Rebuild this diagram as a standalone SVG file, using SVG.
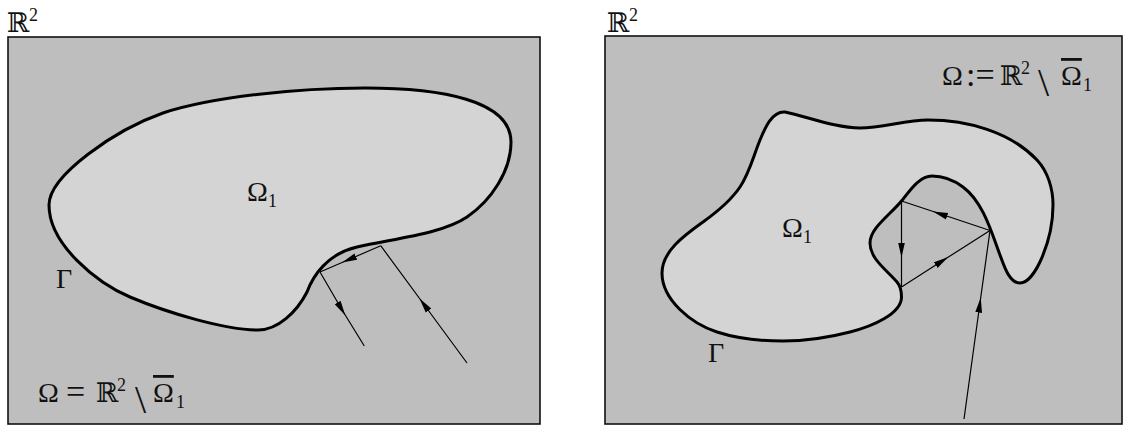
<svg xmlns="http://www.w3.org/2000/svg" width="1128" height="425" viewBox="0 0 1128 425">
<style>
.box{fill:#bebebe;stroke:#111;stroke-width:1.6}
.blob{fill:#d4d4d4;stroke:#000;stroke-width:3;stroke-linejoin:round}
.ray{fill:none;stroke:#000;stroke-width:1.2;marker-mid:url(#ah)}
.t{font-family:"Liberation Serif","DejaVu Serif",serif;font-size:28px;fill:#111}
.s{font-family:"Liberation Serif","DejaVu Serif",serif;font-size:18px;fill:#111}
.bb{font-family:"DejaVu Serif",serif;font-size:27px;fill:#111}
.eq{font-family:"Liberation Serif","DejaVu Serif",serif;font-size:34px;fill:#111}
.bs{font-family:"Liberation Serif","DejaVu Serif",serif;font-size:40px;fill:#111}
.ov{text-decoration:overline}
</style>
<defs>
<marker id="ah" markerUnits="userSpaceOnUse" markerWidth="15" markerHeight="8" viewBox="0 0 15 8" refX="7.5" refY="4" orient="auto">
<path d="M0,0.6 L15,4 L0,7.4 Z" fill="#000"/>
</marker>
</defs>

<g id="left-panel">
<rect class="box" x="8" y="37" width="532" height="387"/>
<text class="bb" x="7" y="32">ℝ</text><text class="s" x="29" y="21">2</text>
</g>

<g id="left-omega1">
<path class="blob" d="M49,205 C49,175 116,129.5 163,113 C212,97 297,88 365,88 C440,88 511,100 511,142 C511,171 491,200.7 467,217 C442,234 393,238.6 357,247 C327,254 313,276 307,292 C297,311.6 278,330 258,330 C225,330 166.8,312.6 130,297 C97.8,283.4 49,245 49,205 Z"/>
<text class="t" x="247" y="201">Ω</text><text class="s" x="268" y="207">1</text>
<text class="t" x="56" y="288">Γ</text>
</g>

<g id="left-formula">
<text class="t" x="38" y="402">Ω</text>
<text class="eq" x="66" y="403">=</text>
<text class="bb" x="96" y="402">ℝ</text><text class="s" x="117" y="391">2</text>
<text class="bs" x="135" y="413">\</text>
<text class="t ov" x="153" y="402">Ω</text><text class="s" x="176" y="408">1</text>
</g>

<g id="right-panel">
<rect class="box" x="605" y="36" width="517" height="388"/>
<text class="bb" x="607" y="32">ℝ</text><text class="s" x="629" y="21">2</text>
</g>

<g id="right-omega1">
<path class="blob" d="M785,112 C808,117 836,128 860,128 C883,128 905,120 928,120 C967,120 1010,131.5 1037,160 C1048,171.7 1053,189 1053,205 C1053,240 1035,283 1020,283 C1009,283 1003.9,265.3 1000,255 C991.25,231.5 983,202 963,187 C954.2,180.4 943,176 932,176 C919,176 909.7,191 901.5,201 C890,215 870,228 870,243 C870,259 886.6,269.8 897,282 C900.9,286.6 901.5,291 901.5,297 C901.5,314 872,326.5 850,332 C829,337.5 805,341 783,341 C761,341 738,338.8 717,332 C691.4,323.6 662,300 662,273 C662,251 685.2,234.8 703,222 C716.8,212.1 730.5,201.1 740,187 C749.5,172.9 753.5,155.8 760,140 C765,127.9 772,111 785,112 Z"/>
<text class="t" x="782" y="237">Ω</text><text class="s" x="803" y="243">1</text>
<text class="t" x="708" y="362">Γ</text>
</g>

<g id="right-formula">
<text class="t" x="942" y="85">Ω</text>
<text class="eq" x="966" y="86">:=</text>
<text class="bb" x="1000" y="85">ℝ</text><text class="s" x="1021" y="74">2</text>
<text class="bs" x="1038" y="96">\</text>
<text class="t ov" x="1061" y="85">Ω</text><text class="s" x="1083" y="91">1</text>
</g>

<g id="connectors">
<path class="ray" d="M467,363 L424,304.5 L380.7,245.7"/>
<path class="ray" d="M380.7,245.7 L349,259.5 L320,272"/>
<path class="ray" d="M320,272 L341.5,309 L364.3,346"/>
<path class="ray" d="M964,419 L979.7,305 L990,230.5"/>
<path class="ray" d="M990,230.5 L940,213.8 L901.5,201"/>
<path class="ray" d="M901.5,201 L901.5,250 L901.5,287"/>
<path class="ray" d="M901.5,287 L942,261.1 L990,230.5"/>
</g>
</svg>
